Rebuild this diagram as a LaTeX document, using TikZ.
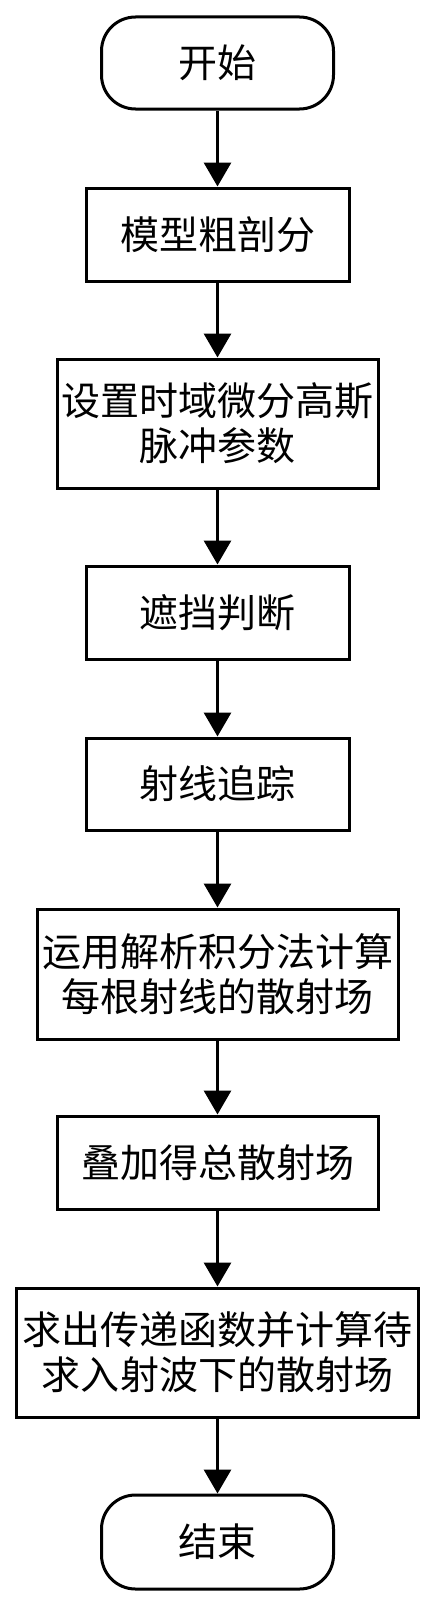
\documentclass[tikz,border=0pt]{standalone}
\usepackage{fontspec}
\newfontfamily\cjk{Noto Sans CJK SC}
\usepackage{tikz}
\usetikzlibrary{arrows.meta}

\begin{document}
\begin{tikzpicture}[x=1pt,y=-1pt,
  stepbox/.style={draw, line width=3pt, align=center, inner sep=0pt,
    font=\cjk\fontsize{39}{45}\selectfont},
  termbox/.style={stepbox, rounded corners=34pt},
  flow/.style={line width=3.2pt, -{Triangle[width=27pt,length=24pt]}}]%change the size here
\useasboundingbox (0,0) rectangle (435,1603);
\node [termbox, minimum width=232pt, minimum height=92pt] (start) at (217.5,63) {开始};
\node [stepbox, minimum width=263pt, minimum height=93pt] (mesh) at (217.5,234.5) {模型粗剖分};
\node [stepbox, minimum width=321pt, minimum height=129pt] (pulse) at (217.5,423.5) {设置时域微分高斯\\脉冲参数};
\node [stepbox, minimum width=263pt, minimum height=93pt] (shadow) at (217.5,612.5) {遮挡判断};
\node [stepbox, minimum width=263pt, minimum height=92pt] (trace) at (217.5,784) {射线追踪};
\node [stepbox, minimum width=361pt, minimum height=130pt] (integ) at (217.5,974) {运用解析积分法计算\\每根射线的散射场};
\node [stepbox, minimum width=321pt, minimum height=93pt] (total) at (217.5,1162.5) {叠加得总散射场};
\node [stepbox, minimum width=402pt, minimum height=129pt] (trans) at (217.5,1352.5) {求出传递函数并计算待\\求入射波下的散射场};
\node [termbox, minimum width=232pt, minimum height=94pt] (stop) at (217.5,1542) {结束};
% arrows
\draw [flow] (start) -- (mesh);
\draw [flow] (mesh) -- (pulse);
\draw [flow] (pulse) -- (shadow);
\draw [flow] (shadow) -- (trace);
\draw [flow] (trace) -- (integ);
\draw [flow] (integ) -- (total);
\draw [flow] (total) -- (trans);
\draw [flow] (trans) -- (stop);
\end{tikzpicture}
\end{document}
